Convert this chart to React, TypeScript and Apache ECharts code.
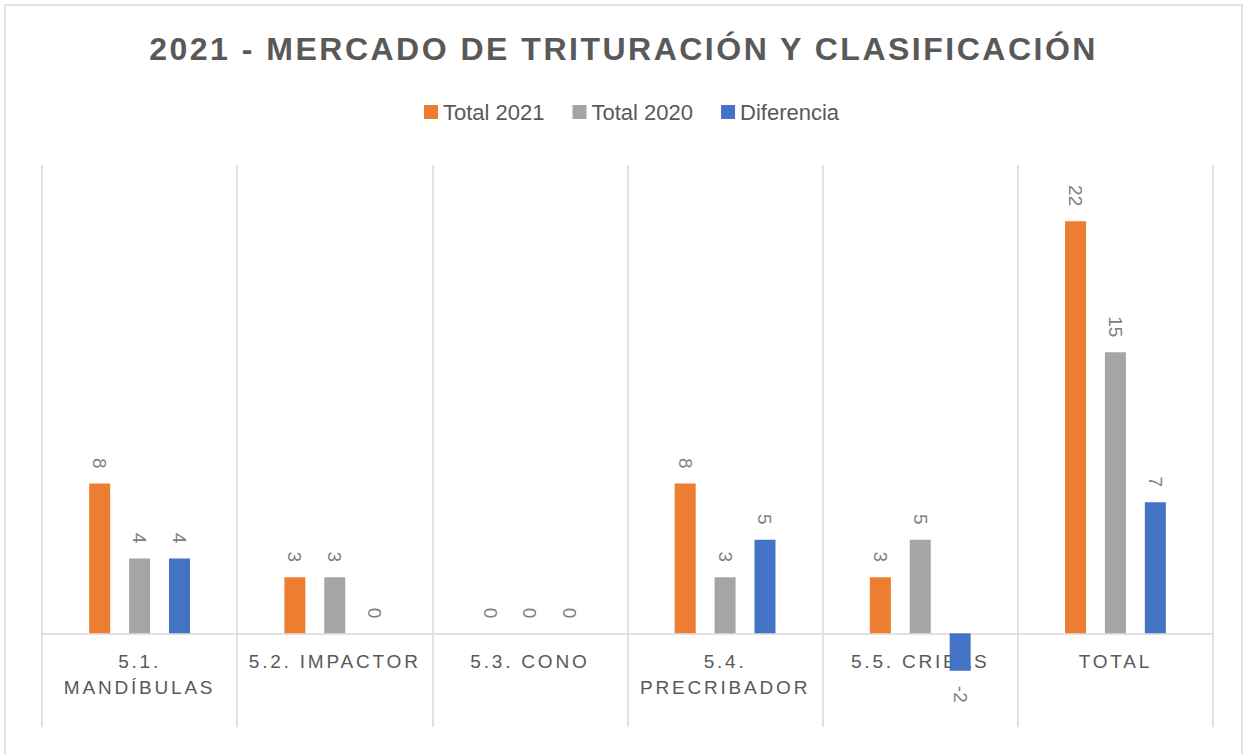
import React, { useEffect, useRef } from 'react';
import * as echarts from 'echarts';

const titleText = '2021 - MERCADO DE TRITURACIÓN Y CLASIFICACIÓN';
const categories = ['5.1. MANDÍBULAS', '5.2. IMPACTOR', '5.3. CONO', '5.4. PRECRIBADOR', '5.5. CRIBAS', 'TOTAL'];
const seriesNames = ['Total 2021', 'Total 2020', 'Diferencia'];
const total2021 = [8, 3, 0, 8, 3, 22];
const total2020 = [4, 3, 0, 3, 5, 15];
const diferencia = [4, 0, 0, 5, -2, 7];
const colors = ['#ED7D31', '#A5A5A5', '#4472C4'];
const yTicks = { min: -5, max: 25, interval: 5 };

const FONT = '"Liberation Sans", Arial, sans-serif';

const formatCat = (v: string) => (v.length > 13 ? v.replace('. ', '.\n') : v);

export default function App() {
  const ref = useRef<HTMLDivElement>(null);

  useEffect(() => {
    const el = ref.current;
    if (!el) return;
    const chart = echarts.init(el, null, { renderer: 'svg' });

    const catLines = new Set<string>();
    categories.forEach((c) => formatCat(c).split('\n').forEach((l) => catLines.add(l)));

    const gridTop = 165;
    const gridBottom = 27;
    const gridHeight = 754 - gridTop - gridBottom;
    // distance from grid bottom up to the zero line, so labels sit under the zero line
    const zeroOffset = (gridHeight * (0 - yTicks.min)) / (yTicks.max - yTicks.min);

    const labelBase = {
      show: true,
      position: 'top',
      rotate: -90,
      align: 'right',
      verticalAlign: 'middle',
      distance: 15,
      color: '#7f7f7f',
      fontSize: 19,
      fontFamily: FONT,
    };

    const mkData = (arr: number[]) =>
      arr.map((v) => (v < 0 ? { value: v, label: { position: 'bottom', align: 'left' } } : v));

    const allData = [total2021, total2020, diferencia];

    const option: any = {
      animation: false,
      backgroundColor: '#ffffff',
      color: colors,
      graphic: [
        {
          type: 'rect',
          shape: { x: 5, y: 5, width: 1237, height: 800 },
          style: { fill: 'none', stroke: '#d9d9d9', lineWidth: 1.5 },
          silent: true,
        },
      ],
      title: {
        text: titleText,
        left: 'center',
        top: 28,
        textStyle: { color: '#595959', fontSize: 32, fontWeight: 'bold', fontFamily: FONT },
      },
      legend: {
        data: seriesNames,
        top: 101,
        left: 424,
        padding: 0,
        icon: 'rect',
        itemWidth: 14,
        itemHeight: 14,
        itemGap: 28,
        textStyle: { color: '#595959', fontSize: 22, fontFamily: FONT },
      },
      grid: {
        left: 42,
        right: 34,
        top: gridTop,
        bottom: gridBottom,
        containLabel: false,
        outerBoundsMode: 'none',
      },
      xAxis: {
        type: 'category',
        data: categories,
        axisLine: { onZero: true, lineStyle: { color: '#d9d9d9', width: 1.5 } },
        axisTick: { show: false },
        splitLine: { show: true, lineStyle: { color: '#d9d9d9', width: 1.5 } },
        axisLabel: {
          interval: 0,
          color: '#595959',
          fontSize: 19,
          lineHeight: 26,
          margin: 15 - zeroOffset,
          fontFamily: FONT,
          formatter: formatCat,
        },
      },
      yAxis: {
        type: 'value',
        min: yTicks.min,
        max: yTicks.max,
        interval: yTicks.interval,
        show: false,
        splitLine: { show: false },
      },
      series: seriesNames.map((name, i) => ({
        name,
        type: 'bar',
        barWidth: 21,
        barGap: '90%',
        data: mkData(allData[i]),
        label: labelBase,
      })),
    };

    const applySpacing = () => {
      const svg = el.querySelector('svg');
      if (!svg) return;
      svg.querySelectorAll('text').forEach((t) => {
        const s = (t.textContent || '').trim();
        if (s === titleText) (t as any).style.letterSpacing = '2.5px';
        else if (catLines.has(s)) (t as any).style.letterSpacing = '2.8px';
      });
    };

    chart.on('finished', applySpacing);
    chart.setOption(option);
    applySpacing();

    return () => {
      chart.dispose();
    };
  }, []);

  return (
    <div
      ref={ref}
      style={{ position: 'fixed', left: 0, top: 0, width: 1247, height: 754, background: '#fff' }}
    />
  );
}
